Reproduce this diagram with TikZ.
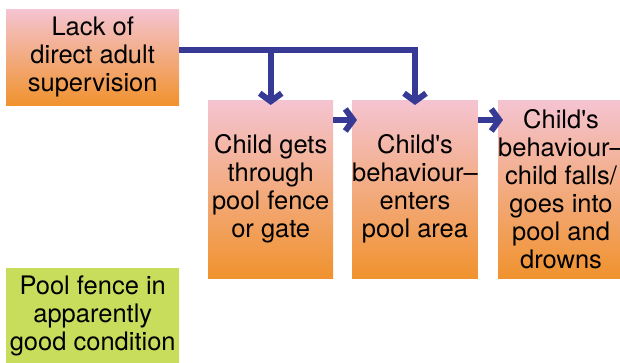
\documentclass[tikz,border=0pt]{standalone}
\usepackage{fontspec}
\setmainfont{TeX Gyre Heros}
\usetikzlibrary{arrows.meta}

\definecolor{pinktop}{HTML}{F5C4D2}
\definecolor{orangebot}{HTML}{F0922E}
\definecolor{limebox}{HTML}{C9DD5C}
\definecolor{navy}{HTML}{363A94}

\tikzset{
  stage/.style={anchor=north west, inner sep=0pt, align=center,
    top color=pinktop, bottom color=orangebot,
    font=\fontsize{25.5}{28}\selectfont},
  flow/.style={draw=navy, line width=6pt,
    -{Straight Barb[length=8pt,width=22pt]}, shorten >=-5pt}
}

\begin{document}
\begin{tikzpicture}[x=1pt,y=-1pt]
  \clip (0,0) rectangle (620,363);

  \node[stage, minimum width=173pt, minimum height=96pt] (lack) at (6,9)
    {Lack of\\direct adult\\supervision};
  \node[stage, minimum width=125pt, minimum height=178pt] (gets) at (208,100)
    {Child gets\\through\\pool fence\\or gate};
  \node[stage, minimum width=125pt, minimum height=178pt] (enters) at (352,100)
    {Child\textquotesingle s\\behaviour--\\enters\\pool area};
  \node[stage, minimum width=125pt, minimum height=178pt] (drowns) at (498,100)
    {Child\textquotesingle s\\behaviour--\\child falls/\\goes into\\pool and\\drowns};
  \node[stage, top color=limebox, bottom color=limebox,
    minimum width=173pt, minimum height=96pt] (fence) at (6,268)
    {Pool fence in\\apparently\\good condition};

  % supervision feeds both stages
  \draw[flow] ([yshift=7pt]lack.east) -| (enters.north);
  \draw[flow] ([yshift=7pt]lack.east) -| (gets.north);

  % sequence of events
  \draw[flow] ([yshift=-20pt]gets.north east) -- ([yshift=-20pt]enters.north west);
  \draw[flow] ([yshift=-20pt]enters.north east) -- ([yshift=-20pt]drowns.north west);

\end{tikzpicture}
\end{document}
